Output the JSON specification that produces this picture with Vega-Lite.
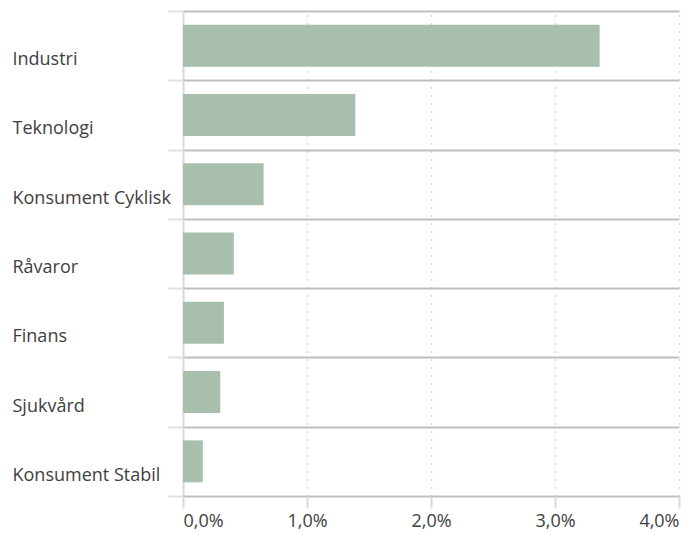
{
  "$schema": "https://vega.github.io/schema/vega-lite/v6.json",
  "width": 496,
  "height": 485,
  "padding": {"left": 183, "top": 11, "right": 4, "bottom": 37},
  "autosize": {"type": "none"},
  "background": "white",
  "config": {"view": {"stroke": null}, "font": "Open Sans"},
  "data": {
    "values": [
      {"sektor": "Industri", "andel": 0.0336},
      {"sektor": "Teknologi", "andel": 0.0139},
      {"sektor": "Konsument Cyklisk", "andel": 0.0065},
      {"sektor": "Råvaror", "andel": 0.0041},
      {"sektor": "Finans", "andel": 0.0033},
      {"sektor": "Sjukvård", "andel": 0.0030},
      {"sektor": "Konsument Stabil", "andel": 0.0016}
    ]
  },
  "mark": {"type": "bar", "color": "#a9bfae", "height": {"band": 0.606}},
  "encoding": {
    "y": {
      "field": "sektor",
      "type": "nominal",
      "sort": null,
      "scale": {"paddingInner": 0, "paddingOuter": 0},
      "axis": {
        "title": null,
        "tickBand": "extent",
        "tickSize": 15,
        "tickColor": "#e0e0e0",
        "tickWidth": 2,
        "grid": true,
        "gridColor": "#bfbfbf",
        "gridWidth": 2,
        "domainColor": "#d9d9d9",
        "domainWidth": 2,
        "labelAlign": "left",
        "labelPadding": 156,
        "labelOffset": 14,
        "labelFontSize": 18,
        "labelColor": "#404040",
        "labelBaseline": "middle"
      }
    },
    "x": {
      "field": "andel",
      "type": "quantitative",
      "scale": {"domain": [0, 0.04]},
      "axis": {
        "title": null,
        "values": [0, 0.01, 0.02, 0.03, 0.04],
        "labelExpr": "replace(format(datum.value, '.1%'), '.', ',')",
        "labelFlush": true,
        "grid": true,
        "gridDash": [1, 7],
        "gridColor": "#b0b0b0",
        "gridWidth": 1.5,
        "domain": false,
        "tickSize": 12,
        "tickColor": "#d9d9d9",
        "tickWidth": 2,
        "labelFontSize": 18,
        "labelColor": "#404040",
        "labelPadding": 4
      }
    }
  }
}
